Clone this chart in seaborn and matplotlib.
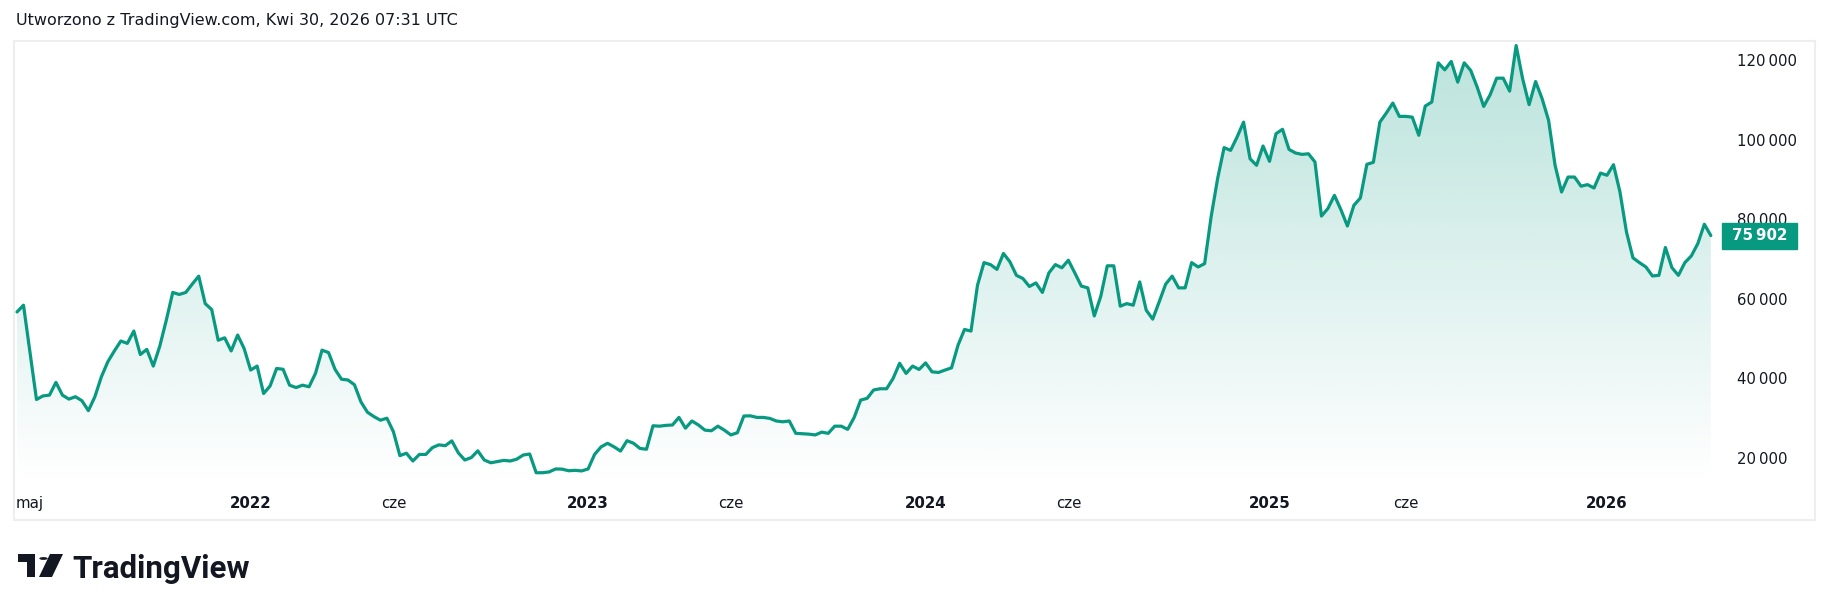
import numpy as np
import pandas as pd
import matplotlib
matplotlib.use("Agg")
import matplotlib.pyplot as plt
import matplotlib.dates as mdates
import matplotlib.colors as mcolors
from matplotlib.patches import Rectangle, Circle, Polygon
from matplotlib.transforms import blended_transform_factory, ScaledTranslation
import seaborn as sns

# weekly closes (first bar = week of 2021-04-26)
first_week = "2021-04-26"
closes_2021 = [56700, 58400, 46500, 34700, 35600, 35800, 39000, 35800, 34800, 35400,
               34400, 31900, 35400, 40400, 44200, 46900, 49400, 48800, 51900, 46000,
               47300, 43100, 48100, 54600, 61600, 61100, 61600, 63700, 65700, 58800,
               57300, 49600, 50200, 46900, 50900, 47500]
closes_2022 = [42100, 43100, 36200, 38100, 42500, 42300, 38300, 37700, 38300, 37900,
               41300, 47100, 46500, 42300, 39800, 39600, 38400, 34100, 31500, 30400,
               29500, 30000, 26600, 20600, 21200, 19250, 20900, 20900, 22600, 23300,
               23100, 24300, 21300, 19500, 20100, 21800, 19500, 18800, 19100, 19400,
               19250, 19700, 20750, 21000, 16300, 16300, 16500, 17250, 17200, 16800,
               16900, 16750]
closes_2023 = [17250, 20900, 22800, 23700, 22800, 21750, 24350, 23700, 22400, 22200,
               28100, 28000, 28200, 28300, 30200, 27500, 29300, 28300, 27000, 26850,
               28000, 27000, 25800, 26350, 30550, 30600, 30200, 30200, 29950, 29300,
               29100, 29300, 26200, 26100, 26000, 25800, 26500, 26200, 28000, 28000,
               27200, 30200, 34550, 35000, 37100, 37400, 37400, 40000, 43800, 41250,
               43100, 42250]
closes_2024 = [43900, 41650, 41500, 42100, 42650, 48350, 52300, 51900, 63400, 69100,
               68600, 67400, 71400, 69300, 65900, 65100, 63100, 64000, 61600, 66500,
               68600, 67800, 69700, 66500, 63200, 62750, 55700, 60650, 68300, 68300,
               58150, 58800, 58400, 64250, 57150, 54900, 59250, 63700, 65700, 62750,
               62750, 69100, 68000, 68850, 80600, 90200, 98000, 97300, 100650, 104400,
               95200, 93550, 98400]
closes_2025 = [94550, 101500, 102600, 97550, 96650, 96300, 96450, 94400, 80800, 82700,
               86000, 82400, 78300, 83500, 85350, 93800, 94300, 104400, 106700, 109200,
               105850, 105850, 105650, 101100, 108450, 109450, 119300, 117550, 119650, 114450,
               119300, 117400, 113200, 108350, 111300, 115450, 115450, 112200, 123650, 115300,
               108800, 114600, 110300, 104850, 93550, 86850, 90600, 90600, 88300, 88700,
               87850, 91600]
closes_2026 = [91050, 93700, 86850, 76800, 70300, 69100, 68000, 65750, 65900, 72900,
               67850, 65900, 69100, 70800, 73900, 78750, 75902]

last_price = 75902
price_ticks = [20000, 40000, 60000, 80000, 100000, 120000]
tick_dates = ["2021-05-03", "2022-01-03", "2022-06-06", "2023-01-02", "2023-06-05",
              "2024-01-01", "2024-06-03", "2025-01-06", "2025-06-02", "2026-01-05"]
tick_labels = ["maj", "2022", "cze", "2023", "cze", "2024", "cze", "2025", "cze", "2026"]

closes = closes_2021 + closes_2022 + closes_2023 + closes_2024 + closes_2025 + closes_2026
df = pd.DataFrame({
    "week": pd.date_range(first_week, periods=len(closes), freq="7D"),
    "close": closes,
})

line_color = "#089981"
text_color = "#131722"

sns.set_style("white")
plt.rcParams["font.family"] = ["DejaVu Sans"]

W, H = 1830, 611
fig = plt.figure(figsize=(W / 100, H / 100), dpi=100)
ax = fig.add_axes([14 / W, 91 / H, 1801 / W, 479 / H])

# axis ranges (0.927 px per day, 251.3 per px)
x_left = df["week"].iloc[0] - pd.Timedelta(days=3.24)
x_right = x_left + pd.Timedelta(days=1942.6)
y_bottom, y_top = 4420, 124790

# gradient fill under the line
poly = ax.fill_between(df["week"], df["close"], y_bottom, color="none", lw=0)
rows = np.linspace(y_top, y_bottom, 400)
fade_at = 13200
alpha = 0.28 * np.clip((rows - fade_at) / (y_top - fade_at), 0, 1)
grad = np.zeros((len(rows), 1, 4))
grad[..., :3] = mcolors.to_rgb(line_color)
grad[:, 0, 3] = alpha
im = ax.imshow(grad, aspect="auto", origin="upper",
               extent=[mdates.date2num(x_left), mdates.date2num(x_right), y_bottom, y_top],
               zorder=1)
im.set_clip_path(poly.get_paths()[0], transform=ax.transData)

sns.lineplot(data=df, x="week", y="close", ax=ax, color=line_color, linewidth=2.3, zorder=3)

ax.set_xlim(x_left, x_right)
ax.set_ylim(y_bottom, y_top)
ax.set_xlabel("")
ax.set_ylabel("")

# price scale inside the pane on the right
ax.yaxis.tick_right()
ax.set_yticks(price_ticks)
ax.set_yticklabels([f"{v:,}".replace(",", "\u2009") for v in price_ticks])
ax.tick_params(axis="y", length=0, pad=-56, labelsize=10.7, labelcolor=text_color)
for lbl in ax.get_yticklabels():
    lbl.set_horizontalalignment("left")

# time scale inside the pane at the bottom
ax.set_xticks(pd.to_datetime(tick_dates))
ax.set_xticklabels(tick_labels)
ax.tick_params(axis="x", length=0, pad=-17.5, labelsize=10.8, labelcolor=text_color)
for lbl in ax.get_xticklabels():
    if lbl.get_text().isdigit():
        lbl.set_fontweight("bold")
first = ax.get_xticklabels()[0]
first.set_transform(first.get_transform() + ScaledTranslation(6 / 100, 0, fig.dpi_scale_trans))

for s in ax.spines.values():
    s.set_color("#eceef2")
    s.set_linewidth(1.5)

# last price badge
bt = blended_transform_factory(ax.transAxes, ax.transData)
badge_h = 26 * 251.3
ax.add_patch(Rectangle((0.9484, last_price - badge_h / 2), 0.0416, badge_h,
                       transform=bt, color=line_color, clip_on=False, zorder=5))
ax.text(0.9484 + 0.0416 / 2, last_price, f"{last_price:,}".replace(",", "\u2009"),
        transform=bt, ha="center", va="center", color="white", fontsize=10.8,
        fontweight="bold", zorder=6, clip_on=False)

# header
fig.text(16 / W, 1 - 21 / H, "Utworzono z TradingView.com, Kwi 30, 2026 07:31 UTC",
         ha="left", va="center", fontsize=11.5, color=text_color)

# TradingView logo
def px(x, y):
    return (x / W, 1 - y / H)

logo_kw = dict(transform=fig.transFigure, color=text_color, lw=0)
fig.patches.append(Rectangle(px(18, 562), 17 / W, 8 / H, **logo_kw))
fig.patches.append(Rectangle(px(27, 577), 8 / W, 23 / H, **logo_kw))
fig.patches.append(Polygon([px(50, 554), px(63, 554), px(52, 577), px(39, 577)], **logo_kw))
fig.patches.append(Circle(px(43.5, 558.5), 4.2 / W, **logo_kw))
fig.text(72 / W, 1 - 569 / H, "TradingView", ha="left", va="center",
         fontsize=22.5, fontweight="bold", family=["Roboto", "DejaVu Sans"], color=text_color)

fig.savefig("out.png", dpi=100)
